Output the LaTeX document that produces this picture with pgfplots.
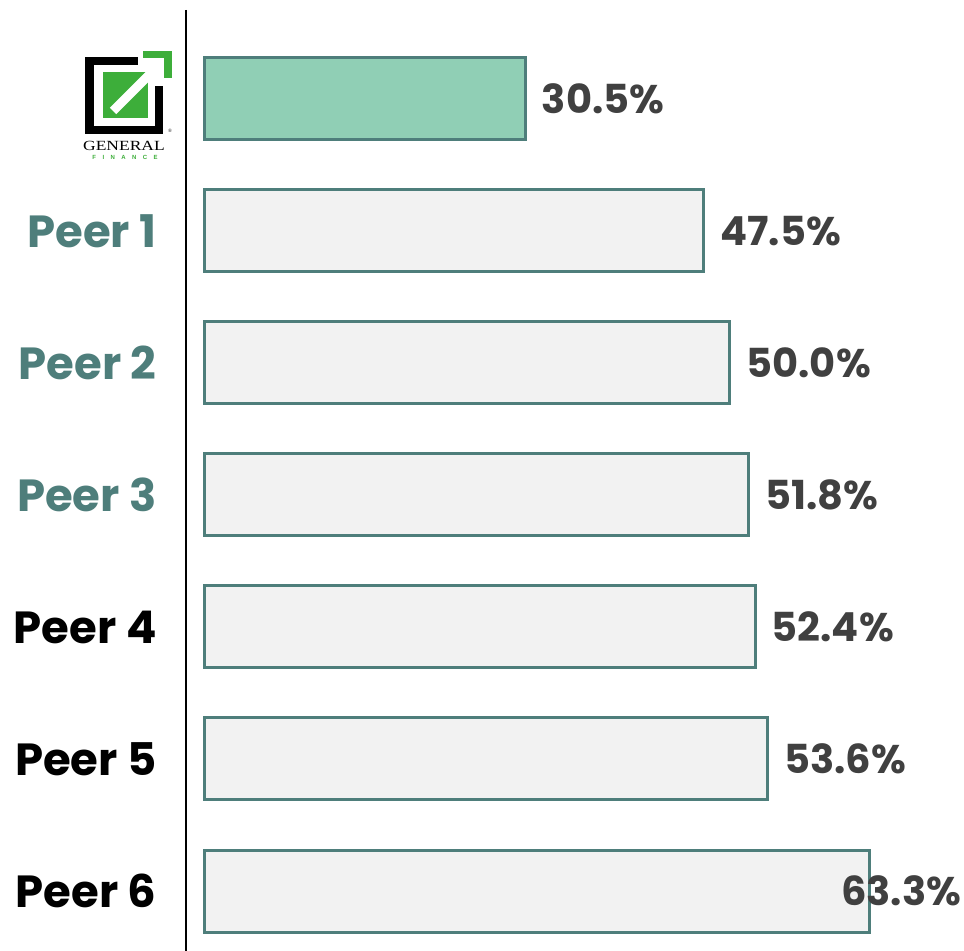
\documentclass[border=0pt]{standalone}
\usepackage{fontspec}
\setmainfont{Poppins}
\newfontfamily\seriffont{Liberation Serif}
\newfontfamily\logosans{Liberation Sans}
\usepackage{pgfplots}
\pgfplotsset{compat=1.18}
\definecolor{teal}{HTML}{4E7E7B}
\definecolor{gfgreen}{HTML}{90CFB5}
\definecolor{barfill}{HTML}{F2F2F2}
\definecolor{valgray}{HTML}{404040}
\definecolor{logogreen}{HTML}{3DAE3A}
\begin{document}
\begin{tikzpicture}
\useasboundingbox (-93pt,0pt) rectangle (389pt,475.5pt);
\begin{axis}[
  scale only axis,
  width=389pt, height=470.5pt,
  xmin=-1.8095, xmax=72.29,
  ymin=-0.674, ymax=6.4545,
  y dir=reverse,
  axis x line=none,
  axis y line=left,
  y axis line style={-, line width=1pt, black},
  ytick={0,1,2,3,4,5,6},
  yticklabels={{}, {\color{teal}Peer 1}, {\color{teal}Peer 2}, {\color{teal}Peer 3}, Peer 4, Peer 5, Peer 6},
  major tick length=0pt,
  yticklabel style={anchor=east, inner sep=0pt, xshift=-14.5pt, font=\fontsize{22.5pt}{26pt}\selectfont\bfseries},
  clip=false,
]
\addplot[xbar, bar width=41pt, bar shift=0pt, fill=gfgreen, draw=teal, line width=1.5pt] coordinates {(30.5,0)};
\addplot[xbar, bar width=41pt, bar shift=0pt, fill=barfill, draw=teal, line width=1.5pt] coordinates {
(47.5,1) (50.0,2) (51.8,3) (52.4,4) (53.6,5) (63.3,6)};
\addplot[only marks, mark=none, draw=none, point meta=explicit symbolic,
  nodes near coords={\pgfplotspointmeta},
  every node near coord/.append style={anchor=west, inner sep=0pt, text=valgray, font=\fontsize{20pt}{23pt}\selectfont\bfseries}]
  table[meta=lab] {
x y lab
32.05 0 30.5\%
49.05 1 47.5\%
51.55 2 50.0\%
53.35 3 51.8\%
53.95 4 52.4\%
55.15 5 53.6\%
60.55 6 63.3\%
};
\end{axis}
\begin{scope}[shift={(-93pt,475.5pt)}, x=0.5pt, y=-0.5pt]
  \fill[black] (85,57) rectangle (138,65);
  \fill[black] (85,57) rectangle (94,134);
  \fill[black] (85,126) rectangle (163,134);
  \fill[black] (155,86) rectangle (163,134);
  \fill[logogreen] (143,51) rectangle (172,58);
  \fill[logogreen] (164,51) rectangle (172,78);
  \fill[logogreen] (103,72) rectangle (148,118);
  \draw[white, line width=4.5pt] (113,111) -- (150,74);
  \node[inner sep=0pt, xscale=1.25, font=\seriffont\fontsize{7pt}{8pt}\selectfont] at (124,146) {GENERAL};
  \node[inner sep=0pt, font=\seriffont\fontsize{2.5pt}{3pt}\selectfont] at (170,131) {\textregistered};
  \node[inner sep=0pt, text=logogreen, font=\logosans\bfseries\fontsize{3pt}{4pt}\selectfont] at (125,157) {F\hspace{3.2pt}I\hspace{3.2pt}N\hspace{3.2pt}A\hspace{3.2pt}N\hspace{3.2pt}C\hspace{3.2pt}E};
\end{scope}
\end{tikzpicture}
\end{document}
